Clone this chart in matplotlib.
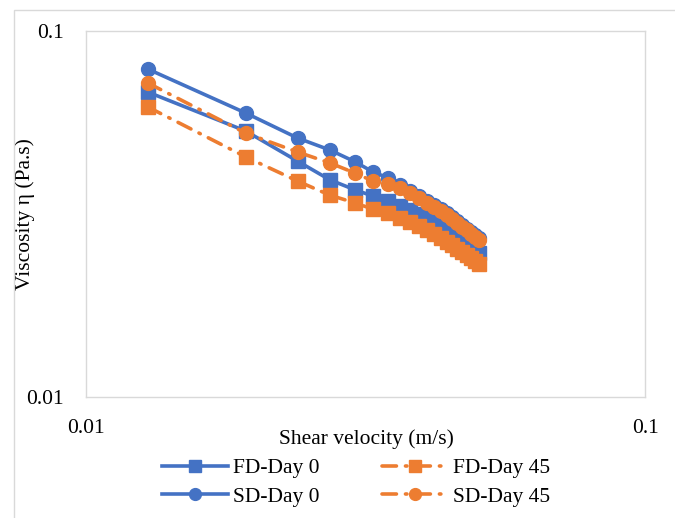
import matplotlib.pyplot as plt
from matplotlib.patches import Rectangle

# shear velocity (m/s)
velocity = [0.0129, 0.0193, 0.0239, 0.0273, 0.0303, 0.0326, 0.0347, 0.0365, 0.0380,
            0.0394, 0.0408, 0.0419, 0.0431, 0.0442, 0.0452, 0.0461, 0.0471, 0.0480,
            0.0489, 0.0497, 0.0505]

# viscosity (Pa.s)
fd_day0 = [0.0681, 0.0533, 0.0441, 0.0392, 0.0368, 0.0354, 0.0343, 0.0333, 0.0324,
           0.0316, 0.0308, 0.0301, 0.0293, 0.0288, 0.0281, 0.0275, 0.0269, 0.0264,
           0.0259, 0.0252, 0.0247]
sd_day0 = [0.0787, 0.0597, 0.0510, 0.0473, 0.0439, 0.0412, 0.0397, 0.0380, 0.0366,
           0.0354, 0.0343, 0.0335, 0.0326, 0.0318, 0.0310, 0.0303, 0.0295, 0.0288,
           0.0282, 0.0277, 0.0272]
fd_day45 = [0.0620, 0.0453, 0.0389, 0.0356, 0.0339, 0.0326, 0.0318, 0.0308, 0.0301,
            0.0293, 0.0286, 0.0279, 0.0272, 0.0265, 0.0260, 0.0254, 0.0249, 0.0244,
            0.0240, 0.0235, 0.0231]
sd_day45 = [0.0721, 0.0526, 0.0467, 0.0436, 0.0409, 0.0389, 0.0382, 0.0373, 0.0361,
            0.0350, 0.0339, 0.0330, 0.0322, 0.0314, 0.0306, 0.0299, 0.0291, 0.0286,
            0.0279, 0.0274, 0.0269]

blue = '#4472C4'
orange = '#ED7D31'
dashdot = (0, (4, 2.5, 0.4, 2.5))
fs = 15.5

plt.rcParams['font.family'] = ['Liberation Serif', 'DejaVu Serif']

fig = plt.figure(figsize=(6.75, 5.18), dpi=100)
ax = fig.add_axes([0.1274, 0.2336, 0.8282, 0.7066])

# outer chart border
fig.patches.append(Rectangle((14/675, -0.1), 1.2, 1 - 10/518 + 0.1, transform=fig.transFigure,
                             fill=False, edgecolor='#d9d9d9', lw=1.0))

ax.plot(velocity, fd_day0, color=blue, lw=2.6, marker='s', ms=9.5, label='FD-Day 0')
ax.plot(velocity, sd_day0, color=blue, lw=2.6, marker='o', ms=10, label='SD-Day 0')
ax.plot(velocity, fd_day45, color=orange, lw=2.6, ls=dashdot, dash_capstyle='round',
        marker='s', ms=9.5, label='FD-Day 45')
ax.plot(velocity, sd_day45, color=orange, lw=2.6, ls=dashdot, dash_capstyle='round',
        marker='o', ms=10, label='SD-Day 45')

ax.set_xscale('log')
ax.set_yscale('log')
ax.set_xlim(0.01, 0.1)
ax.set_ylim(0.01, 0.1)
ax.set_xticks([0.01, 0.1])
ax.set_xticklabels(['0.01', '0.1'])
ax.set_yticks([0.01, 0.1])
ax.set_yticklabels(['0.01', '0.1'])
ax.minorticks_off()
ax.tick_params(length=0, labelsize=fs, colors='#000000')
ax.tick_params(axis='x', pad=16)
ax.tick_params(axis='y', pad=16)

for s in ax.spines.values():
    s.set_color('#d9d9d9')
    s.set_linewidth(1.0)

ax.set_xlabel('Shear velocity (m/s)', fontsize=fs, va='center')
ax.xaxis.set_label_coords(0.501, -0.115)
ax.set_ylabel('Viscosity η (Pa.s)', fontsize=fs, va='center')
ax.yaxis.set_label_coords(-0.109, 0.5)

leg = fig.legend(*ax.get_legend_handles_labels(), loc='center', bbox_to_anchor=(0.527, 0.0685),
                 ncol=2, frameon=False, fontsize=fs, handlelength=3.1, columnspacing=2.9,
                 handletextpad=0.2, labelspacing=0.4, borderaxespad=0, markerscale=0.85)

fig.savefig('out.png', dpi=100)
